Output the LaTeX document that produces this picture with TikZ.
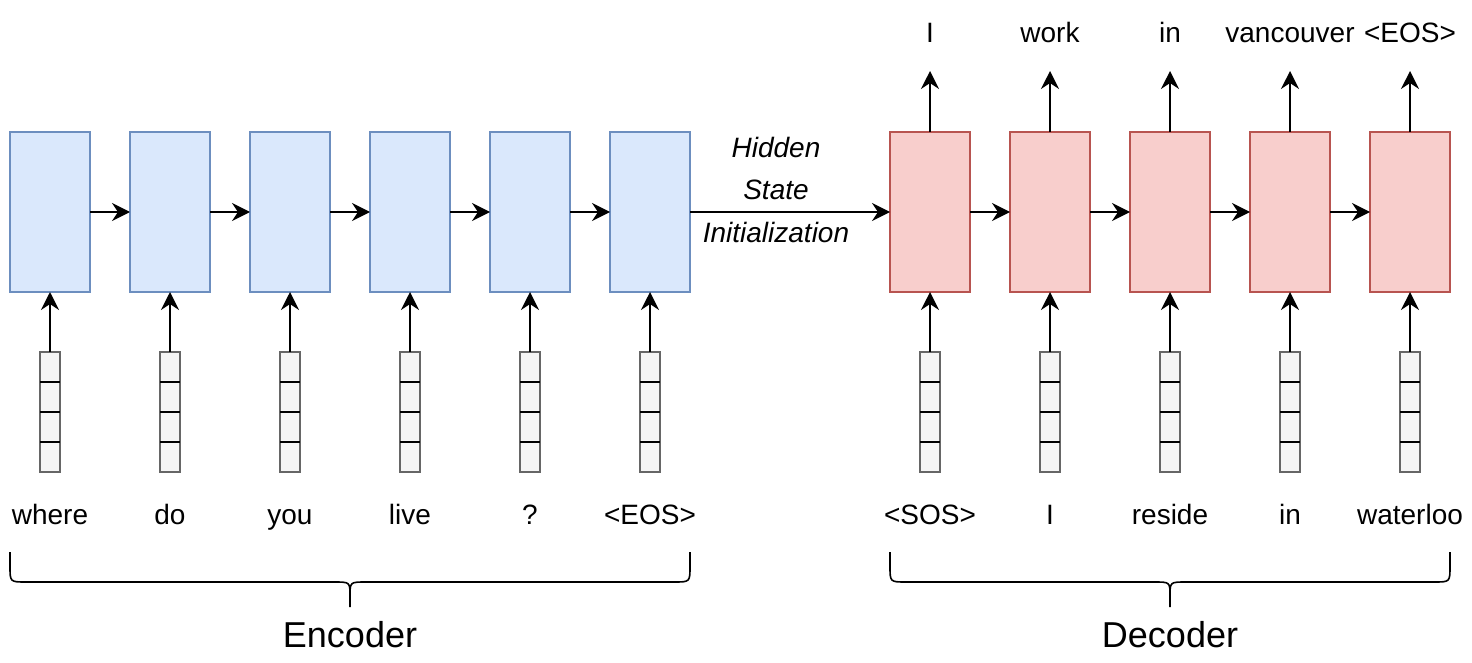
\documentclass[tikz,border=0pt]{standalone}
\usepackage{fontspec}
\setmainfont{Liberation Sans}
\usetikzlibrary{arrows.meta}
\definecolor{bluefill}{HTML}{DAE8FC}
\definecolor{bluestroke}{HTML}{6C8EBF}
\definecolor{redfill}{HTML}{F8CECC}
\definecolor{redstroke}{HTML}{B85450}
\definecolor{vecfill}{HTML}{F5F5F5}
\definecolor{vecstroke}{HTML}{666666}
\tikzset{
  encbox/.style={draw=bluestroke, fill=bluefill, line width=1.8pt, minimum width=80pt, minimum height=160pt, inner sep=0pt, outer sep=0pt},
  decbox/.style={encbox, draw=redstroke, fill=redfill},
  vecbox/.style={draw=vecstroke, fill=vecfill, line width=1.8pt, minimum width=20pt, minimum height=120pt, inner sep=0pt, outer sep=0pt},
  divider/.style={line width=1.8pt, black},
  arr/.style={line width=1.8pt, -{Stealth[length=18pt,width=18pt,inset=6pt]}},
  word/.style={font=\fontsize{28}{34}\selectfont, anchor=base, inner sep=0pt},
  hid/.style={font=\fontsize{28}{34}\selectfont\itshape, anchor=base, inner sep=0pt},
  biglabel/.style={font=\fontsize{36}{42}\selectfont, anchor=base, inner sep=0pt},
  bracepath/.style={line width=1.6pt},
}
\begin{document}
\begin{tikzpicture}[x=1pt,y=-1pt]
\useasboundingbox (0,0) rectangle (1472,663);
% Encoder
\foreach \w [count=\i] in {where,do,you,live,?,{<EOS>}} {
  \pgfmathsetmacro\xx{50+120*(\i-1)}
  \node[encbox] (e\i) at (\xx,212) {};
  \node[vecbox] (ve\i) at (\xx,412) {};
  \foreach \k in {1,2,3} {
    \draw[divider] (\xx-10,352+30*\k) -- (\xx+10,352+30*\k);
  }
  \node[word] (we\i) at (\xx,524) {\w};
  \draw[arr] (ve\i) -- (e\i);
}
\foreach \i [evaluate=\i as \j using int(\i+1)] in {1,...,5} {
  \draw[arr] (e\i) -- (e\j);
}
% Decoder
\foreach \w/\o [count=\i] in {{<SOS>}/I,I/work,reside/in,in/vancouver,waterloo/{<EOS>}} {
  \pgfmathsetmacro\xx{930+120*(\i-1)}
  \node[decbox] (d\i) at (\xx,212) {};
  \node[vecbox] (vd\i) at (\xx,412) {};
  \foreach \k in {1,2,3} {
    \draw[divider] (\xx-10,352+30*\k) -- (\xx+10,352+30*\k);
  }
  \node[word] (wd\i) at (\xx,524) {\w};
  \node[word] (od\i) at (\xx,43) {\o};
  \coordinate (ot\i) at (\xx,71);
  \draw[arr] (vd\i) -- (d\i);
  \draw[arr] (d\i) -- (ot\i);
}
\foreach \i [evaluate=\i as \j using int(\i+1)] in {1,...,4} {
  \draw[arr] (d\i) -- (d\j);
}
% Hidden state
\draw[arr] (e6) -- (d1);
\node[hid] (h1) at (776,158) {Hidden};
\node[hid] (h2) at (776,200) {State};
\node[hid] (h3) at (776,242) {Initialization};
% Braces
\draw[bracepath] (10,552) -- (10,566) .. controls (10,582) .. (26,582) -- (334,582)
  .. controls (350,582) .. (350,596) -- (350,607);
\draw[bracepath] (690,552) -- (690,566) .. controls (690,582) .. (674,582) -- (366,582)
  .. controls (350,582) .. (350,596);
\draw[bracepath] (890,552) -- (890,566) .. controls (890,582) .. (906,582) -- (1154,582)
  .. controls (1170,582) .. (1170,596) -- (1170,607);
\draw[bracepath] (1450,552) -- (1450,566) .. controls (1450,582) .. (1434,582) -- (1186,582)
  .. controls (1170,582) .. (1170,596);
\node[biglabel] (enc) at (350,647) {Encoder};
\node[biglabel] (dec) at (1170,647) {Decoder};
\end{tikzpicture}
\end{document}
